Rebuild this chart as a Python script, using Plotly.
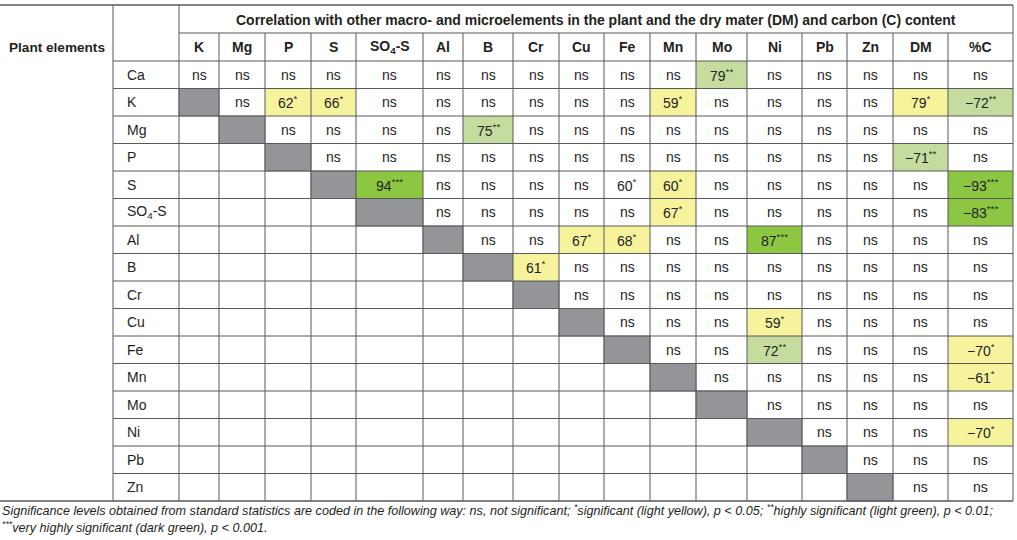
import plotly.graph_objects as go

# Rows (plant elements) and columns (other elements, DM and C content)
plant_elements = ["Ca", "K", "Mg", "P", "S", "SO<sub>4</sub>-S", "Al", "B", "Cr", "Cu",
                  "Fe", "Mn", "Mo", "Ni", "Pb", "Zn"]
other_elements = ["K", "Mg", "P", "S", "SO<sub>4</sub>-S", "Al", "B", "Cr", "Cu", "Fe",
                  "Mn", "Mo", "Ni", "Pb", "Zn", "DM", "%C"]

# Correlation values (r x 100) from the first cell right of the diagonal to %C
row_ca = ["ns", "ns", "ns", "ns", "ns", "ns", "ns", "ns", "ns", "ns", "ns", "79**", "ns", "ns", "ns", "ns", "ns"]
row_k = ["ns", "62*", "66*", "ns", "ns", "ns", "ns", "ns", "ns", "59*", "ns", "ns", "ns", "ns", "79*", "−72**"]
row_mg = ["ns", "ns", "ns", "ns", "75**", "ns", "ns", "ns", "ns", "ns", "ns", "ns", "ns", "ns", "ns"]
row_p = ["ns", "ns", "ns", "ns", "ns", "ns", "ns", "ns", "ns", "ns", "ns", "ns", "−71**", "ns"]
row_s = ["94***", "ns", "ns", "ns", "ns", "60*", "60*", "ns", "ns", "ns", "ns", "ns", "−93***"]
row_so4 = ["ns", "ns", "ns", "ns", "ns", "67*", "ns", "ns", "ns", "ns", "ns", "−83***"]
row_al = ["ns", "ns", "67*", "68*", "ns", "ns", "87***", "ns", "ns", "ns", "ns"]
row_b = ["61*", "ns", "ns", "ns", "ns", "ns", "ns", "ns", "ns", "ns"]
row_cr = ["ns", "ns", "ns", "ns", "ns", "ns", "ns", "ns", "ns"]
row_cu = ["ns", "ns", "ns", "59*", "ns", "ns", "ns", "ns"]
row_fe = ["ns", "ns", "72**", "ns", "ns", "ns", "−70*"]
row_mn = ["ns", "ns", "ns", "ns", "ns", "−61*"]
row_mo = ["ns", "ns", "ns", "ns", "ns"]
row_ni = ["ns", "ns", "ns", "−70*"]
row_pb = ["ns", "ns", "ns"]
row_zn = ["ns", "ns"]

table_rows = [row_ca, row_k, row_mg, row_p, row_s, row_so4, row_al, row_b, row_cr,
              row_cu, row_fe, row_mn, row_mo, row_ni, row_pb, row_zn]

# Highlighted cells: (plant element, other element, significance class)
highlighted = [
    ("Ca", "Mo", "high"),
    ("K", "P", "sig"), ("K", "S", "sig"), ("K", "Mn", "sig"), ("K", "DM", "sig"), ("K", "%C", "high"),
    ("Mg", "B", "high"),
    ("P", "DM", "high"),
    ("S", "SO<sub>4</sub>-S", "very"), ("S", "Mn", "sig"), ("S", "%C", "very"),
    ("SO<sub>4</sub>-S", "Mn", "sig"), ("SO<sub>4</sub>-S", "%C", "very"),
    ("Al", "Cu", "sig"), ("Al", "Fe", "sig"), ("Al", "Ni", "very"),
    ("B", "Cr", "sig"),
    ("Cu", "Ni", "sig"),
    ("Fe", "Ni", "high"), ("Fe", "%C", "sig"),
    ("Mn", "%C", "sig"),
    ("Ni", "%C", "sig"),
]

title_text = "Correlation with other macro- and microelements in the plant and the dry mater (DM) and carbon (C) content"
caption_1 = ("Significance levels obtained from standard statistics are coded in the following way: ns, not significant; "
             "<sup>*</sup>significant (light yellow), p < 0.05; <sup>**</sup>highly significant (light green), p < 0.01;")
caption_2 = "<sup>***</sup>very highly significant (dark green), p < 0.001."

# Layout of the grid (pixels)
col_edges = [113, 179, 219, 265, 311, 356, 423, 463, 513, 559, 604, 650, 696, 747, 802, 847, 893, 948, 1013]
top_y = 5
head_mid_y = 33
head_bot_y = 61
row_h = 27.5

fill_colors = {"sig": "#f7f39d", "high": "#c6dc9f", "very": "#8dc641", "diag": "#939598"}
line_color = "#58595b"
text_color = "#231f20"
font_family = "Liberation Sans, Arial, sans-serif"


def fmt_value(value):
    """Turn '62*' into '62<sup>*</sup>'."""
    stars = value.count("*")
    if stars == 0:
        return value
    return value.replace("*", "") + "<sup>" + "*" * stars + "</sup>"


fig = go.Figure()
shapes = []
annotations = []

# Cell fills (diagonal grey and significance colours)
for r in range(1, len(plant_elements)):
    y0 = head_bot_y + r * row_h
    c = r - 1
    shapes.append(dict(type="rect", xref="x", yref="y",
                       x0=col_edges[c + 1], x1=col_edges[c + 2], y0=y0, y1=y0 + row_h,
                       fillcolor=fill_colors["diag"], line=dict(color="#7d7e81", width=1), layer="below"))

for row_name, col_name, level in highlighted:
    r = plant_elements.index(row_name)
    c = other_elements.index(col_name)
    y0 = head_bot_y + r * row_h
    shapes.append(dict(type="rect", xref="x", yref="y",
                       x0=col_edges[c + 1], x1=col_edges[c + 2], y0=y0, y1=y0 + row_h,
                       fillcolor=fill_colors[level], line=dict(width=0), layer="below"))

# Grid lines
bottom_y = head_bot_y + len(plant_elements) * row_h


def hline(y, x0, x1, width=1):
    shapes.append(dict(type="line", xref="x", yref="y", x0=x0, x1=x1, y0=y, y1=y,
                       line=dict(color=line_color, width=width)))


def vline(x, y0, y1, width=1):
    shapes.append(dict(type="line", xref="x", yref="y", x0=x, x1=x, y0=y0, y1=y1,
                       line=dict(color=line_color, width=width)))


hline(top_y, 0, col_edges[-1], 1.5)
hline(head_mid_y, col_edges[1], col_edges[-1])
for r in range(len(plant_elements)):
    hline(head_bot_y + r * row_h, col_edges[0], col_edges[-1])
hline(bottom_y, 0, col_edges[-1], 1.5)

vline(col_edges[0], top_y, bottom_y)
vline(col_edges[1], top_y, bottom_y)
for x in col_edges[2:-1]:
    vline(x, head_mid_y, bottom_y)
vline(col_edges[-1], top_y, bottom_y)

head_font = dict(size=14, color=text_color, family=font_family)
cell_font = dict(size=14, color=text_color, family=font_family)
note_font = dict(size=12.6, color=text_color, family=font_family)

# Header texts
annotations.append(dict(x=7, y=(head_mid_y + head_bot_y) / 2, text="<b>Plant elements</b>",
                        xanchor="left", font=dict(size=13.6, color=text_color, family=font_family)))
annotations.append(dict(x=(col_edges[1] + col_edges[-1]) / 2, y=(top_y + head_mid_y) / 2 + 1,
                        text="<b>" + title_text + "</b>", font=head_font))
for c, name in enumerate(other_elements):
    annotations.append(dict(x=(col_edges[c + 1] + col_edges[c + 2]) / 2, y=(head_mid_y + head_bot_y) / 2,
                            text="<b>" + name + "</b>", font=head_font))

# Row labels and cell values
for r, name in enumerate(plant_elements):
    yc = head_bot_y + (r + 0.5) * row_h
    annotations.append(dict(x=col_edges[0] + 12, y=yc, text=name, xanchor="left", font=cell_font))
    for k, value in enumerate(table_rows[r]):
        c = r + k
        annotations.append(dict(x=(col_edges[c + 1] + col_edges[c + 2]) / 2, y=yc,
                                text=fmt_value(value), font=cell_font))

# Footnote
annotations.append(dict(x=0, y=510, text="<i>" + caption_1 + "</i>", xanchor="left", font=note_font))
annotations.append(dict(x=0, y=527, text="<i>" + caption_2 + "</i>", xanchor="left", font=note_font))

for a in annotations:
    a.setdefault("xref", "x")
    a.setdefault("yref", "y")
    a.setdefault("showarrow", False)
    a.setdefault("xanchor", "center")
    a.setdefault("yanchor", "middle")

fig.update_layout(
    width=1017, height=540,
    margin=dict(l=0, r=0, t=0, b=0),
    paper_bgcolor="white", plot_bgcolor="white",
    xaxis=dict(range=[0, 1017], visible=False, fixedrange=True),
    yaxis=dict(range=[540, 0], visible=False, fixedrange=True),
    shapes=shapes, annotations=annotations,
    showlegend=False,
)

# remove the default page margin so the figure sits at the window's corner
fig.write_html("out.html", config={"displayModeBar": False},
               post_script="document.body.style.margin='0';document.body.style.overflow='hidden';")
